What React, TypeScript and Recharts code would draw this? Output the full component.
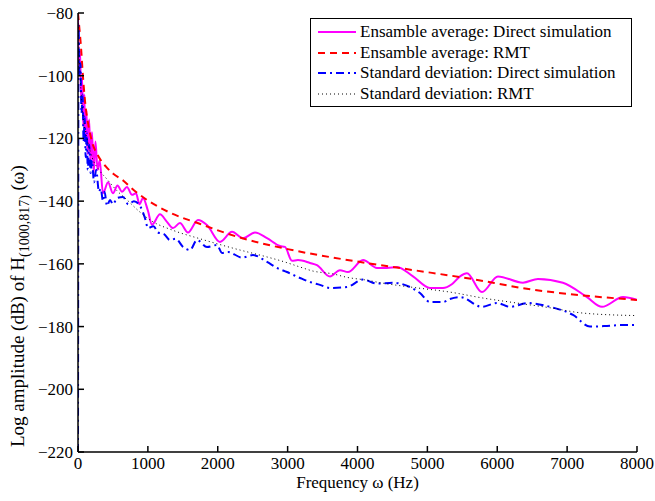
import { Legend, Line, LineChart, XAxis, YAxis } from 'recharts'

// [frequency (Hz), log amplitude (dB)]
const avgDirect: [number, number][] = [
  [0, -82], [15, -98], [30, -92], [45, -108], [60, -101], [75, -116], [90, -106],
  [105, -121], [120, -111], [140, -125], [160, -114], [180, -128], [200, -118],
  [225, -131], [250, -121], [280, -130], [310, -127], [358, -137.5], [430, -134],
  [500, -137.5], [565, -135], [630, -137], [700, -135.5], [773, -138], [830, -137.5],
  [880, -141], [930, -139], [1000, -143], [1059, -147.5], [1173, -144.2], [1273, -146.6],
  [1359, -148.6], [1459, -147], [1574, -150], [1717, -146], [1846, -147.6], [2032, -153],
  [2204, -149.8], [2361, -151.8], [2533, -150], [2705, -151.8], [2890, -154.3],
  [2962, -154.6], [3062, -159], [3148, -158.8], [3320, -159.7], [3420, -160.4],
  [3606, -164], [3749, -162], [3864, -162.6], [4079, -158.8], [4279, -161.3],
  [4422, -161.3], [4565, -161], [4794, -164], [5037, -167.7], [5223, -167.7],
  [5350, -166.5], [5467, -164], [5566, -163], [5781, -169], [6010, -164], [6368, -166],
  [6583, -164.8], [6940, -166], [7284, -170.6], [7499, -173.7], [7800, -170.6], [8000, -171.5],
]

const avgRmt: [number, number][] = [
  [0, -80], [20, -85], [40, -90], [70, -100], [100, -108], [150, -116], [200, -121],
  [300, -126], [400, -129], [500, -131.2], [650, -133.5], [800, -136.5], [1000, -139.8],
  [1300, -143.5], [1750, -147.3], [2300, -151.5], [3000, -155.3], [3650, -158],
  [4150, -159.8], [4800, -162], [5550, -164.5], [6500, -168.2], [7200, -170], [8000, -171.5],
]

const stdDirect: [number, number][] = [
  [0, -220], [8, -84], [20, -100], [35, -96], [50, -112], [65, -106], [80, -121],
  [95, -113], [110, -126], [125, -118], [140, -130], [160, -122], [181, -131], [200, -127],
  [229, -134], [260, -130], [300, -137], [325, -136], [358, -140], [380, -137],
  [415, -141.5], [458, -139.6], [500, -141], [560, -139], [644, -138.7], [720, -141],
  [800, -140], [887, -141.5], [960, -145.5], [1002, -148.6], [1080, -148], [1145, -150],
  [1230, -150.5], [1316, -152.4], [1400, -152], [1503, -154.6], [1603, -155.6],
  [1703, -152.4], [1846, -154.6], [1989, -154], [2061, -156.5], [2147, -156.2],
  [2347, -158], [2504, -157.2], [2705, -159.4], [2848, -161.3], [2990, -162.6],
  [3177, -164.5], [3320, -165.8], [3463, -166.7], [3606, -167.7], [3849, -167.4],
  [4079, -165], [4279, -166.3], [4508, -166], [4751, -167.4], [4894, -169.3],
  [5037, -172.2], [5223, -172.2], [5323, -171.2], [5467, -170.6], [5781, -173.7],
  [5996, -172.5], [6182, -173.7], [6440, -172.5], [6755, -173.7], [7084, -176.3],
  [7327, -180], [7570, -179.8], [7800, -179.5], [8000, -179.5],
]

const stdRmt: [number, number][] = [
  [0, -82], [30, -100], [60, -110], [100, -117], [150, -122], [200, -126], [300, -130],
  [415, -133], [550, -136.5], [701, -139.6], [887, -143.5], [1030, -146], [1359, -149.3],
  [1746, -152], [2218, -155], [2705, -157.8], [2900, -159], [3177, -161], [3363, -162.3],
  [3649, -163.2], [3849, -164.3], [4135, -165.2], [4322, -166], [4794, -167.5],
  [5323, -169], [5795, -170.9], [6282, -172.5], [6755, -174], [7227, -175.7], [8000, -176.5],
]

const xTicks = [0, 1000, 2000, 3000, 4000, 5000, 6000, 7000, 8000]
const yTicks = [-220, -200, -180, -160, -140, -120, -100, -80]

const FONT = 'Liberation Serif, DejaVu Serif, serif'

const series = [
  { name: 'Ensamble average: Direct simulation', data: avgDirect, color: '#ff00ff', dash: undefined, width: 2 },
  { name: 'Ensamble average: RMT', data: avgRmt, color: '#ff0000', dash: '7 5', width: 2 },
  { name: 'Standard deviation: Direct simulation', data: stdDirect, color: '#0000ff', dash: '8 4 2 4', width: 2 },
  { name: 'Standard deviation: RMT', data: stdRmt, color: '#000000', dash: '1 3', width: 1 },
]

const toRows = (pts: [number, number][]) => pts.map(([f, db]) => ({ f, db }))

const fmt = (v: number) => String(v).replace('-', '\u2212')

function YLabel() {
  return (
    <text
      transform="translate(24, 447) rotate(-90)"
      style={{ fontFamily: FONT, fontSize: 19 }}
      fill="#000"
    >
      Log amplitude (dB) of H
      <tspan fontSize={14} dy={5}>(1000,817)</tspan>
      <tspan dy={-5}> (ω)</tspan>
    </text>
  )
}

function LegendBox() {
  return (
    <div
      style={{
        border: '1.5px solid #000',
        background: '#fff',
        width: 320,
        padding: '3px 0 2px 0',
        fontFamily: FONT,
        fontSize: 17,
        lineHeight: '20.5px',
        color: '#000',
      }}
    >
      {series.map((s) => (
        <div key={s.name} style={{ display: 'flex', alignItems: 'center', whiteSpace: 'nowrap' }}>
          <svg width={47} height={12} style={{ flex: 'none' }}>
            <line
              x1={7}
              x2={45}
              y1={6}
              y2={6}
              stroke={s.color}
              strokeWidth={s.width}
              strokeDasharray={s.dash}
            />
          </svg>
          <span style={{ marginLeft: 2 }}>{s.name}</span>
        </div>
      ))}
    </div>
  )
}

export default function App() {
  const axisStyle = { stroke: '#000', strokeWidth: 1.5 }
  const tickStyle = { fill: '#000', fontFamily: FONT, fontSize: 17 }

  return (
    <div style={{ position: 'absolute', left: 0, top: 0, background: '#fff', fontFamily: FONT }}>
      <LineChart width={655} height={501} margin={{ top: 13, right: 18, bottom: 9, left: 0 }}>
        <XAxis
          xAxisId="b"
          type="number"
          dataKey="f"
          domain={[0, 8000]}
          ticks={xTicks}
          allowDataOverflow
          height={40}
          axisLine={axisStyle}
          tickLine={axisStyle}
          tickSize={-6}
          tickMargin={11}
          tick={tickStyle}
          label={{
            value: 'Frequency ω (Hz)',
            position: 'insideBottom',
            offset: 4,
            style: { fill: '#000', fontFamily: FONT, fontSize: 17 },
          }}
        />
        <XAxis
          xAxisId="t"
          orientation="top"
          type="number"
          dataKey="f"
          domain={[0, 8000]}
          ticks={xTicks}
          height={0}
          axisLine={axisStyle}
          tickLine={axisStyle}
          tickSize={-6}
          tick={false}
        />
        <YAxis
          yAxisId="l"
          type="number"
          domain={[-220, -80]}
          ticks={yTicks}
          allowDataOverflow
          width={78}
          axisLine={axisStyle}
          tickLine={axisStyle}
          tickSize={-6}
          tickMargin={11}
          tick={tickStyle}
          tickFormatter={fmt}
          label={<YLabel />}
        />
        <YAxis
          yAxisId="r"
          orientation="right"
          type="number"
          domain={[-220, -80]}
          ticks={yTicks}
          width={0}
          axisLine={axisStyle}
          tickLine={axisStyle}
          tickSize={-6}
          tick={false}
        />
        {series.map((s) => (
          <Line
            key={s.name}
            xAxisId="b"
            yAxisId="l"
            data={toRows(s.data)}
            dataKey="db"
            name={s.name}
            type="monotone"
            stroke={s.color}
            strokeWidth={s.width}
            strokeDasharray={s.dash}
            dot={false}
            activeDot={false}
            isAnimationActive={false}
          />
        ))}
        <Legend
          layout="horizontal"
          verticalAlign="middle"
          align="center"
          wrapperStyle={{ left: 310, top: 18, width: 'auto' }}
          content={() => <LegendBox />}
        />
      </LineChart>
    </div>
  )
}
